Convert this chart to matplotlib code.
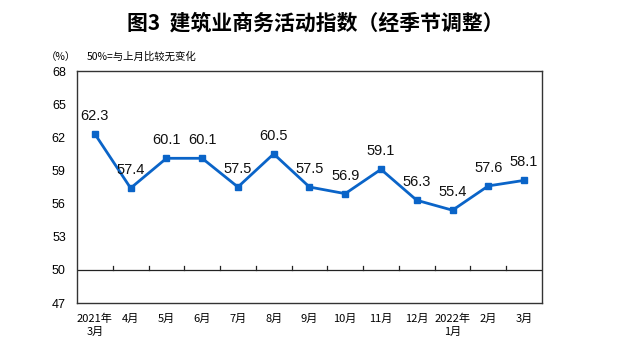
import matplotlib.pyplot as plt
import numpy as np

plt.rcParams['font.family'] = ['Liberation Sans', 'Noto Sans CJK SC', 'DejaVu Sans']

# Data
months = ["2021年\n3月", "4月", "5月", "6月", "7月", "8月", "9月", "10月",
          "11月", "12月", "2022年\n1月", "2月", "3月"]
values = [62.3, 57.4, 60.1, 60.1, 57.5, 60.5, 57.5, 56.9, 59.1, 56.3, 55.4, 57.6, 58.1]
yticks = [47, 50, 53, 56, 59, 62, 65, 68]

fig = plt.figure(figsize=(6.3, 3.52), dpi=100)
ax = fig.add_axes([0.1222, 0.1392, 0.738, 0.659])

x = np.arange(len(values))
line_color = "#0A64C8"
ax.plot(x, values, color=line_color, linewidth=2, marker="s", markersize=5,
        markerfacecolor=line_color, markeredgecolor=line_color)

# Data labels
for xi, v in zip(x, values):
    ax.annotate(f"{v:.1f}", (xi, v), xytext=(0, 8), textcoords="offset points",
                ha="center", va="bottom", fontsize=10.5, color="#111111")

# Reference line at 50 with category separators
ax.axhline(50, color="#222222", linewidth=0.9)
for b in np.arange(0.5, len(values) - 1, 1.0):
    ax.plot([b, b], [50, 50.35], color="#222222", linewidth=0.9)

ax.set_xlim(-0.5, len(values) - 0.5)
ax.set_ylim(47, 68)
ax.set_yticks(yticks)
ax.set_yticklabels([str(t) for t in yticks], fontsize=9)
ax.set_xticks(x)
ax.set_xticklabels(months, fontsize=8, family=['Noto Sans CJK SC', 'DejaVu Sans'],
                   linespacing=1.3)
ax.tick_params(axis="both", length=0)
ax.tick_params(axis="x", pad=8)
ax.tick_params(axis="y", pad=8)

for s in ax.spines.values():
    s.set_color("#333333")
    s.set_linewidth(1.0)

# Title and notes
fig.text(0.5, 0.935, "图3  建筑业商务活动指数（经季节调整）", ha="center", va="center",
         fontsize=15, fontweight="bold", family=['Noto Sans CJK SC', 'DejaVu Sans'])
fig.text(0.072, 0.838, "（%）", ha="left", va="center", fontsize=7.5,
         family=['Noto Sans CJK SC', 'DejaVu Sans'])
fig.text(0.138, 0.838, "50%=与上月比较无变化", ha="left", va="center", fontsize=7.5,
         family=['Noto Sans CJK SC', 'DejaVu Sans'])

plt.savefig("out.png", dpi=100)
